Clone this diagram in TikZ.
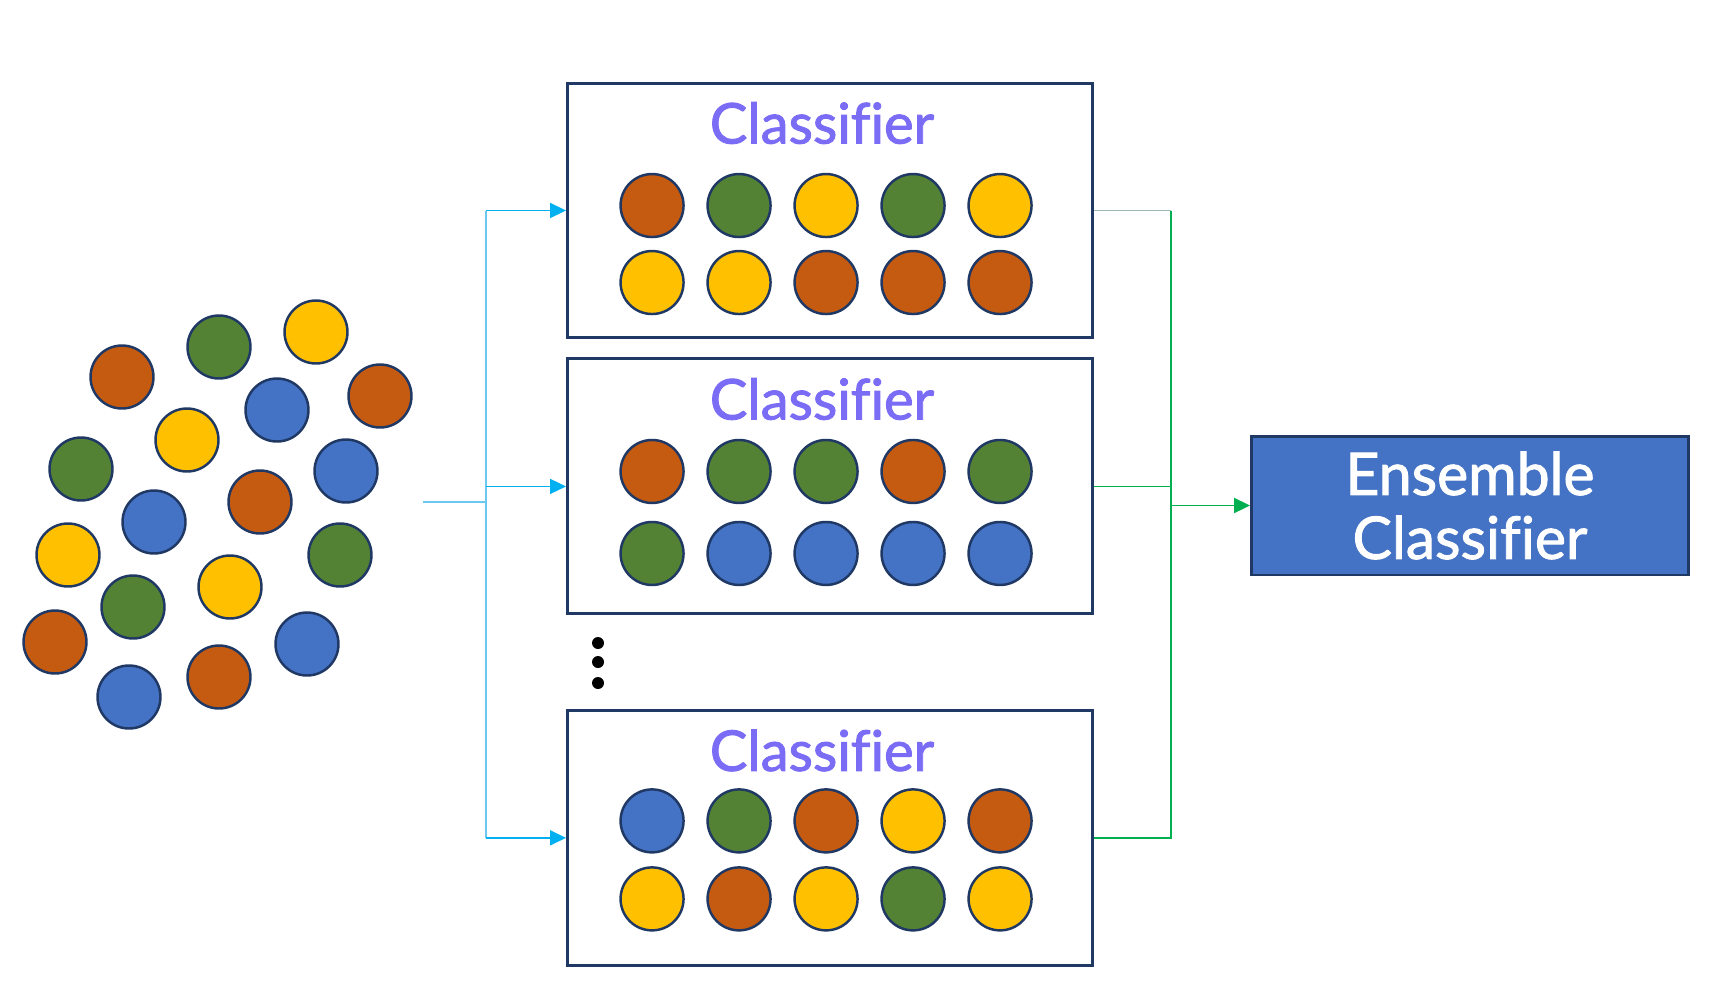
\documentclass[tikz,border=0pt]{standalone}
\usepackage{fontspec}
\setsansfont{Lato}[Ligatures=NoCommon]
\newfontfamily\labelfont{Lato}[Ligatures=NoCommon, FakeBold=1.6]
\usetikzlibrary{positioning, calc, arrows.meta}

\definecolor{or}{HTML}{C55A11}
\definecolor{gr}{HTML}{548235}
\definecolor{ye}{HTML}{FFC000}
\definecolor{bl}{HTML}{4472C4}
\definecolor{navy}{HTML}{1F3864}
\definecolor{titlepurple}{HTML}{7B6CF6}
\definecolor{feedblue}{HTML}{00B0F0}
\definecolor{feedlight}{HTML}{6CC8F0}
\definecolor{outgreen}{HTML}{00B050}
\definecolor{outgrey}{HTML}{9DB8B8}

% one row of five balls inside a classifier box
\newcommand{\ballrow}[4]{%
  \foreach \c [count=\k from 0] in {#4}
    \node[ball, fill=\c] (#1-#2-\k) at ($(#1.north west)+(86+87*\k,#3)$) {};%
}

\begin{document}
\begin{tikzpicture}[x=0.02cm, y=-0.02cm,
    ball/.style={circle, draw=navy, line width=1.4pt, minimum size=1.26cm, inner sep=0pt},
    clfbox/.style={draw=navy, line width=1.7pt, minimum width=10.5cm, minimum height=5.1cm, inner sep=0pt},
    clftitle/.style={anchor=base, font=\labelfont\fontsize{32}{36}\selectfont, text=titlepurple},
    ensbox/.style={draw=navy, line width=1.7pt, fill=bl, text=white, align=center,
      minimum width=8.74cm, minimum height=2.78cm, font=\labelfont\fontsize{33.5}{36.4}\selectfont},
    vdot/.style={circle, fill=black, minimum size=0.24cm, inner sep=0pt},
    feed/.style={draw=feedlight, line width=0.9pt},
    feedarr/.style={draw=feedblue, line width=0.9pt, -{Triangle[length=0.32cm, width=0.3cm]}},
    outline/.style={draw=outgreen, line width=0.9pt},
    outarr/.style={draw=outgreen, line width=1.1pt, -{Triangle[length=0.32cm, width=0.3cm]}},
  ]
  \useasboundingbox (0,0) rectangle (1710,1001);

  % data points
  \foreach \x/\y/\c [count=\n] in {122/377/or, 219/347/gr, 316/332/ye, 380/396/or,
      277/410/bl, 187/440/ye, 81/469/gr, 346/471/bl, 260/502/or, 154/522/bl,
      68/555/ye, 340/555/gr, 230/587/ye, 133/607/gr, 55/642/or, 307/644/bl,
      219/677/or, 129/697/bl}
    \node[ball, fill=\c] (d\n) at (\x,\y) {};

  % classifiers
  \node[clfbox] (clf1) at (830,210.5) {};
  \node[clfbox, below=0.36cm of clf1] (clf2) {};
  \node[clfbox, below=1.87cm of clf2] (clf3) {};

  \foreach \b in {clf1, clf2, clf3}
    \node[clftitle] (\b-t) at ($(\b.north)+(-8,62)$) {Classifier};

  \ballrow{clf1}{a}{124}{or, gr, ye, gr, ye}
  \ballrow{clf1}{b}{201}{ye, ye, or, or, or}
  \ballrow{clf2}{a}{114}{or, gr, gr, or, gr}
  \ballrow{clf2}{b}{196}{gr, bl, bl, bl, bl}
  \ballrow{clf3}{a}{112}{bl, gr, or, ye, or}
  \ballrow{clf3}{b}{190}{ye, or, ye, gr, ye}

  % more classifiers
  \foreach \y [count=\n] in {643, 662, 683}
    \node[vdot] (dot\n) at (598,\y) {};

  % ensemble
  \node[ensbox] (ens) at (1470,505.5) {Ensemble\\Classifier};

  % data -> classifiers
  \coordinate (src) at (423,502);
  \coordinate (fork) at (486,502);
  \draw[feed] (src) -- (fork);
  \draw[feed] (fork |- clf1.west) -- (fork |- clf3.west);
  \foreach \b in {clf1, clf2, clf3}
    \draw[feedarr] (fork |- \b.west) -- (\b.west);

  % classifiers -> ensemble
  \coordinate (join) at (1171,505.5);
  \draw[draw=outgrey, line width=0.9pt] (clf1.east) -- (clf1.east -| join);
  \draw[outline] (clf1.east -| join) -- (clf3.east -| join) -- (clf3.east);
  \draw[outline] (clf2.east) -- (clf2.east -| join);
  \draw[outarr] (clf2.east -| join) |- (ens.west);
\end{tikzpicture}
\end{document}
